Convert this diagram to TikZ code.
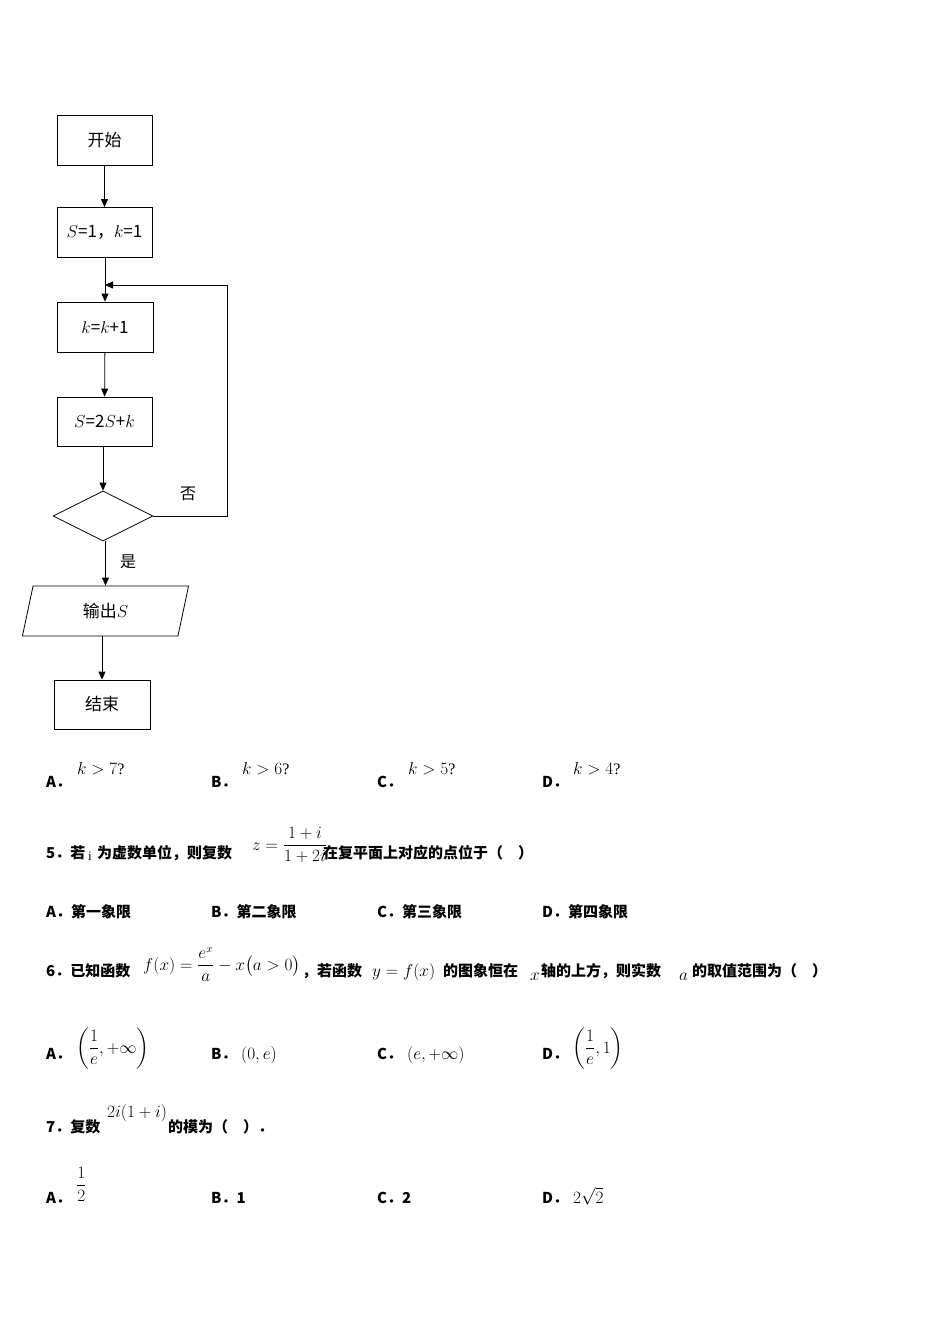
\documentclass[tikz,border=0pt]{standalone}
\usepackage{fontspec}
\usepackage{amsmath}
\setmainfont{Liberation Serif}
\newfontfamily\cjk{Noto Sans CJK SC}
\newfontfamily\cjkb{Noto Sans CJK SC}[BoldFont={* Bold},AutoFakeBold=0]
\usetikzlibrary{shapes.geometric,arrows.meta}
\begin{document}
\begin{tikzpicture}[x=1pt,y=-1pt,
  box/.style={draw,thick,minimum width=95pt,minimum height=50pt,inner sep=0pt,font=\cjk\fontsize{17}{20}\selectfont},
  arr/.style={-{Triangle[length=8pt,width=7pt]},thick},
  q/.style={anchor=base west,inner sep=0pt,font=\cjk\bfseries\fontsize{15}{18}\selectfont},
  m/.style={anchor=base west,inner sep=0pt,font=\fontsize{16}{18}\selectfont}]
\useasboundingbox[fill=white] (0,0) rectangle (950,1344);
\node[box] (start) at (104.5,140) {开始};
\node[box] (init) at (104.5,232.5) {$S$=1，$k$=1};
\node[box,minimum width=96pt] (inc) at (105,327) {$k$=$k$+1};
\node[box,minimum height=49pt] (upd) at (104.5,421.5) {$S$=2$S$+$k$};
\node[draw,thick,diamond,aspect=2,minimum width=100pt,minimum height=50pt,inner sep=0pt] (dec) at (103,516) {};
\node[draw,thick,trapezium,trapezium left angle=78,trapezium right angle=102,minimum width=105pt,minimum height=50pt,inner sep=0pt,font=\cjk\fontsize{17}{20}\selectfont] (out) at (105.5,611) {输出$S$};
\node[box,minimum width=96pt,minimum height=49pt] (end) at (102,704.5) {结束};
\coordinate (lp) at (105,285);
\draw[arr] (start) -- (init);
\draw[arr] (init.south -| inc.north) -- (inc.north);
\draw[arr] (inc) -- (upd);
\draw[arr] (upd.south -| dec.north) -- (dec.north);
\draw[arr] (dec.south -| out.north) -- (out.north);
\draw[arr] (out.south -| end.north) -- (end.north);
\draw[arr] (dec.east) -- (227,516) -- (227,285) -- (lp);
\node[font=\cjk\fontsize{16}{18}\selectfont] (no) at (188,494) {否};
\node[font=\cjk\fontsize{16}{18}\selectfont] (yes) at (128,562) {是};
% options row 4
\node[q] (a4) at (46,787) {A．}; \node[m] at (77,774) {$k>7$?};
\node[q] (b4) at (211,787) {B．}; \node[m] at (242,774) {$k>6$?};
\node[q] (c4) at (377,787) {C．}; \node[m] at (408,774) {$k>5$?};
\node[q] (d4) at (542,787) {D．}; \node[m] at (573,774) {$k>4$?};
% Q5
\node[q] at (46,858) {5．若};
\node[m,font=\fontsize{13}{15}\selectfont] at (88,860) {i};
\node[q] at (97,858) {为虚数单位，则复数};
\node[m] at (252,850) {$z=\dfrac{1+i}{1+2i}$};
\node[q] at (323,858) {在复平面上对应的点位于（　）};
\node[q] at (46,917) {A．第一象限};
\node[q] at (211,917) {B．第二象限};
\node[q] at (377,917) {C．第三象限};
\node[q] at (542,917) {D．第四象限};
% Q6
\node[q] at (46,976) {6．已知函数};
\node[m] at (143,970) {$f(x)=\dfrac{e^{x}}{a}-x\bigl(a>0\bigr)$};
\node[q] at (302,976) {，若函数};
\node[m] at (372,976) {$y=f(x)$};
\node[q] at (443,976) {的图象恒在};
\node[m] at (530,980) {$x$};
\node[q] at (541,976) {轴的上方，则实数};
\node[m] at (679,980) {$a$};
\node[q] at (692,976) {的取值范围为（　）};
\node[q] at (46,1059) {A．}; \node[m] at (76,1053) {$\left(\dfrac{1}{e},+\infty\right)$};
\node[q] at (211,1059) {B．}; \node[m] at (241,1059) {$(0,e)$};
\node[q] at (377,1059) {C．}; \node[m] at (407,1059) {$(e,+\infty)$};
\node[q] at (542,1059) {D．}; \node[m] at (572,1053) {$\left(\dfrac{1}{e},1\right)$};
% Q7
\node[q] at (46,1132) {7．复数};
\node[m] at (107,1117) {$2i(1+i)$};
\node[q] at (168,1132) {的模为（　）．};
\node[q] at (46,1203) {A．}; \node[m] at (76,1190) {$\dfrac{1}{2}$};
\node[q] at (211,1203) {B．1};
\node[q] at (377,1203) {C．2};
\node[q] at (542,1203) {D．}; \node[m] at (573,1203) {$2\sqrt{2}$};
\end{tikzpicture}
\end{document}
